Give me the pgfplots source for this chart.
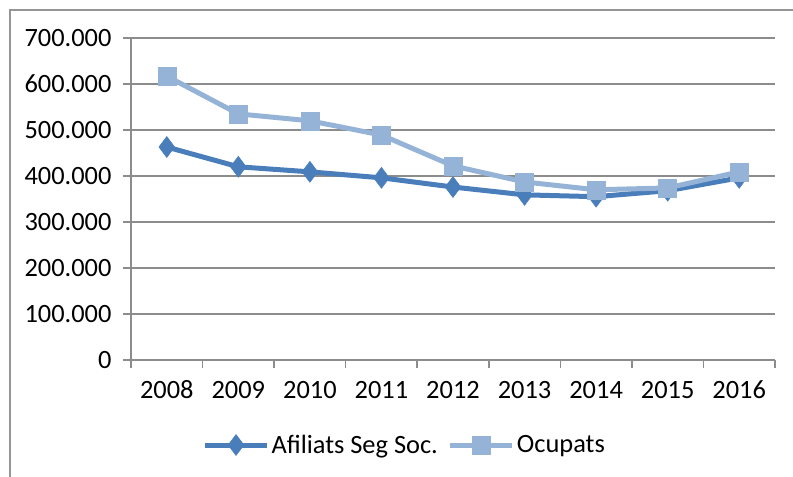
\documentclass[border=0pt]{standalone}
\usepackage{pgfplots}
\pgfplotsset{compat=1.18}
\usepackage{fontspec}
\setmainfont{Carlito}

\definecolor{afil}{RGB}{74,126,187}
\definecolor{ocup}{RGB}{149,179,215}
\definecolor{gridc}{RGB}{140,140,140}
\definecolor{framec}{RGB}{150,150,150}

\begin{document}
\begin{tikzpicture}[x=1bp,y=1bp]
\path[use as bounding box] (0,0) rectangle (793,477);
% outer chart frame
\draw[framec, line width=1.5bp] (10,-5) -- (10,467) -- (800,467);
\begin{axis}[
  at={(131bp,117bp)}, anchor=south west,
  scale only axis, width=644bp, height=322bp,
  xmin=0, xmax=9, ymin=0, ymax=700000,
  axis x line*=bottom, axis y line*=left,
  axis line style={gridc, line width=1.5bp},
  xtick={0,...,9},
  xticklabels={2008,2009,2010,2011,2012,2013,2014,2015,2016},
  x tick label as interval,
  ytick={0,100000,...,700000},
  ymajorgrids,
  grid style={gridc, line width=1.5bp},
  tick align=outside,
  major tick length=8bp,
  tick style={gridc, line width=1.5bp},
  tick label style={font=\fontsize{26.5}{30}\selectfont},
  /pgf/number format/.cd, assume math mode=true, fixed, 1000 sep={.},
  /pgfplots/.cd,
  scaled y ticks=false,
  xticklabel style={yshift=-10bp, text height=17bp, text depth=0bp},
  yticklabel style={xshift=-8bp},
  legend style={at={(0.425,-0.264)}, anchor=center, draw=none, fill=none,
    font=\fontsize{26.5}{30}\selectfont,
    /tikz/every even column/.append style={column sep=8bp}},
  legend cell align=left,
  legend columns=2,
  legend image code/.code={%
    \draw[mark repeat=2,mark phase=2,#1] plot coordinates {(0bp,0bp) (31bp,0bp) (62bp,0bp)};},
]
\addplot[afil, line width=5bp, mark=diamond*, mark size=10.5bp,
  mark options={solid, fill=afil, line width=0.5bp}]
  coordinates {(0.5,463000) (1.5,420000) (2.5,409000) (3.5,396000) (4.5,376000)
               (5.5,359000) (6.5,355000) (7.5,368000) (8.5,396000)};
\addlegendentry{Afiliats Seg Soc.}
\addplot[ocup, line width=5bp, mark=square*, mark size=9bp,
  mark options={solid, fill=ocup, line width=0.5bp}]
  coordinates {(0.5,617000) (1.5,535000) (2.5,520000) (3.5,489000) (4.5,422000)
               (5.5,387000) (6.5,370000) (7.5,374000) (8.5,409000)};
\addlegendentry{Ocupats}
\end{axis}
\end{tikzpicture}
\end{document}
